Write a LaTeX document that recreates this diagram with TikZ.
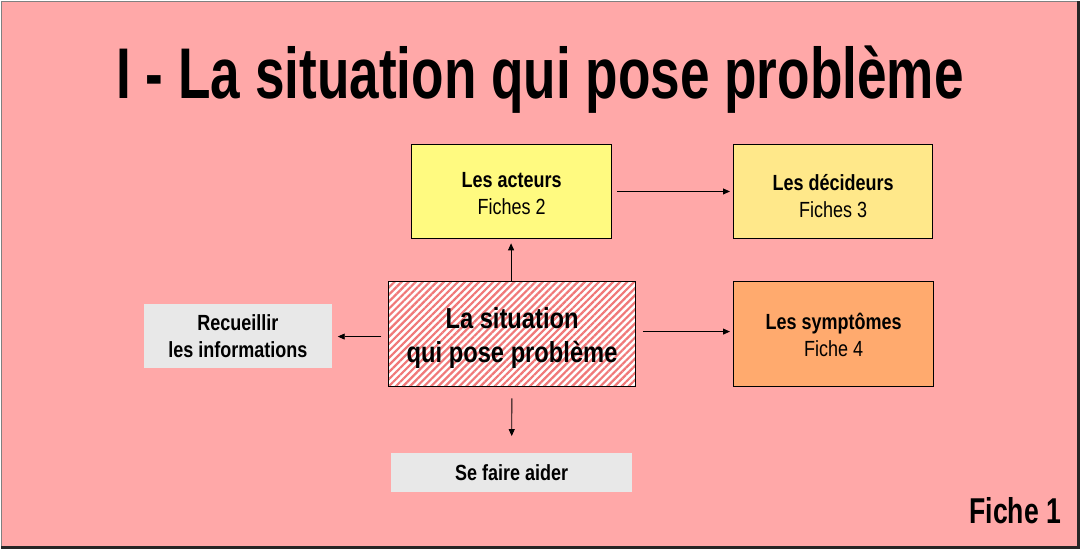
\documentclass[tikz,border=0pt]{standalone}
\usepackage{fontspec}
\setmainfont[FakeStretch=0.82]{Liberation Sans}
\newfontfamily\etroit[FakeStretch=0.74]{Liberation Sans}
\usetikzlibrary{arrows.meta,patterns.meta}
\definecolor{fond}{RGB}{255,168,168}
\definecolor{jaune}{RGB}{255,250,128}
\definecolor{jauneclair}{RGB}{255,232,138}
\definecolor{orange}{RGB}{255,170,110}
\definecolor{gris}{RGB}{232,232,232}
\definecolor{hachure}{RGB}{240,120,120}
\tikzset{
  fiche/.style={draw=black,line width=1pt,align=center,font=\fontsize{22}{27}\selectfont,text height=47pt},
  grisbox/.style={fill=gris,align=center,font=\bfseries\fontsize{22}{27}\selectfont},
  fleche/.style={line width=0.9pt,-{Triangle[length=7pt,width=6pt]}}
}
\begin{document}
\begin{tikzpicture}[x=1pt,y=1pt,yscale=-1,xscale=1]
%Shape: Background
\fill[fond] (0,0) rectangle (1080,548);
\draw[gray,line width=1.5pt] (0,548) -- (0,0) -- (1080,0);
\draw[black!85,line width=3pt] (0,548) -- (1080,548) -- (1080,0);
\useasboundingbox (0,0) rectangle (1080,548);

% Text Node
\node[anchor=base,font=\etroit\bfseries\fontsize{72}{80}\selectfont] (titre) at (540,97) {I - La situation qui pose problème};

%Shape: Rectangle
\node[fiche,fill=jaune,minimum width=201pt,minimum height=95pt] (acteurs) at (511.5,190.5) {\textbf{Les acteurs}\\Fiches 2};
%Shape: Rectangle
\node[fiche,fill=jauneclair,minimum width=200pt,minimum height=95pt,text height=52pt] (decideurs) at (834,190.5) {\textbf{Les décideurs}\\Fiches 3};
%Shape: Rectangle
\node[fiche,preaction={fill=white},pattern={Lines[angle=45,distance=5pt,line width=2.2pt]},pattern color=hachure,
  minimum width=248pt,minimum height=105pt,font=\bfseries\fontsize{29}{34}\selectfont,text height=63pt] (situation) at (512,333.5) {La situation\\qui pose problème};
%Shape: Rectangle
\node[fiche,fill=orange,minimum width=201pt,minimum height=105pt,text height=45pt] (symptomes) at (834.5,333.5) {\textbf{Les symptômes}\\Fiche 4};
%Shape: Rectangle
\node[grisbox,minimum width=188pt,minimum height=65pt] (recueillir) at (237,335.5) {Recueillir\\les informations};
%Shape: Rectangle
\node[grisbox,minimum width=241pt,minimum height=39pt] (aider) at (511.5,472.5) {Se faire aider};

% Text Node
\node[anchor=base east,font=\etroit\bfseries\fontsize{36}{40}\selectfont] (fiche) at (1066,523) {Fiche 1};

%Straight Lines
\draw[fleche,shorten <=5pt,shorten >=3pt] (acteurs) -- (decideurs);
\draw[fleche,shorten >=4pt] (situation.north -| 511,0) -- (acteurs.south -| 511,0);
\draw[fleche,shorten <=6pt,shorten >=6pt] (situation.west) ++(0,2.5) coordinate (sw) (sw) -- (sw -| recueillir.east);
\draw[fleche,shorten <=6pt,shorten >=3pt] (situation.east) ++(0,-2.5) coordinate (se) (se) -- (se -| symptomes.west);
\draw[fleche,shorten <=11pt,shorten >=17pt] (situation) -- (aider);

\end{tikzpicture}
\end{document}
